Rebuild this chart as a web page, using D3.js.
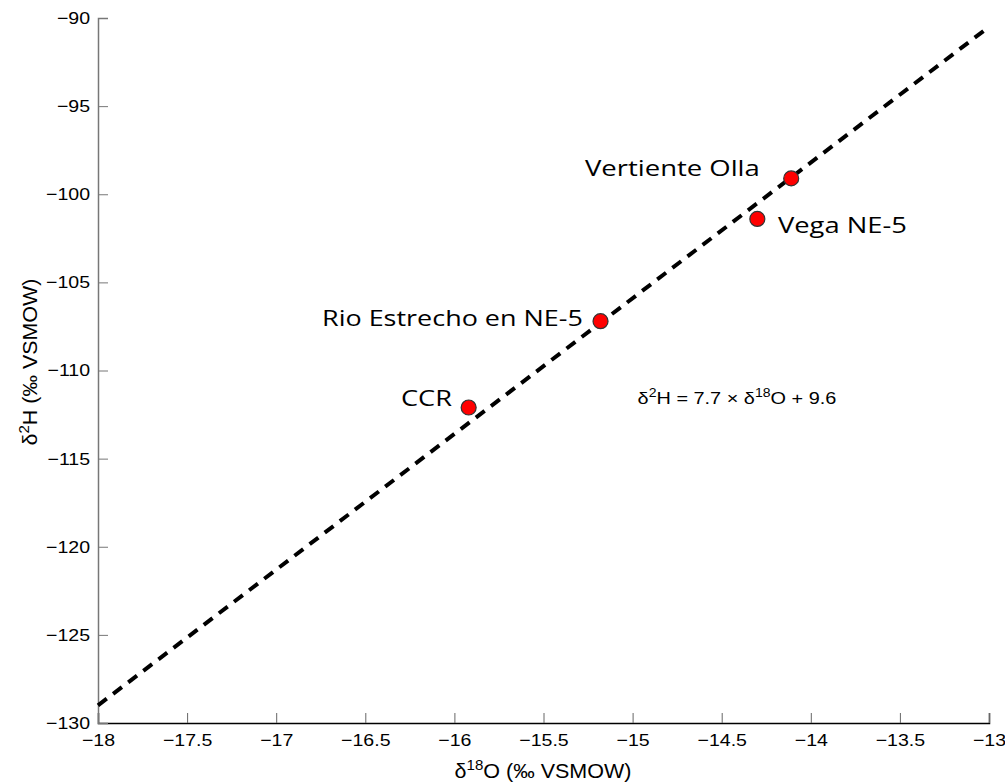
<!DOCTYPE html>
<html>
<head>
<meta charset="utf-8">
<script src="https://cdn.jsdelivr.net/npm/d3@7"></script>
<style>
  body { margin: 0; background: #fff; }
  svg { display: block; }
  .tick text { font-family: "Liberation Sans", Arial, sans-serif; font-size: 17px; fill: #000; }
</style>
</head>
<body>
<svg width="1005" height="783"></svg>
<script>
var svg = d3.select("svg"),
    margin = {left: 98, right: 16, top: 18, bottom: 60},
    width = 1005 - margin.left - margin.right,
    height = 783 - margin.top - margin.bottom;

// sample sites
var sites = ["Vertiente Olla", "Vega NE-5", "Rio Estrecho en NE-5", "CCR"];
var d18O = [-14.11, -14.30, -15.18, -15.92];
var d2H = [-99.1, -101.4, -107.2, -112.1];

// fitted line d2H = 7.7 * d18O + 9.6
var slope = 7.7, intercept = 9.6;
var xTicks = d3.range(-18, -12.99, 0.5);
var yTicks = d3.range(-130, -89.99, 5);

var x = d3.scaleLinear().domain([-18, -13]).range([0, width]);
var y = d3.scaleLinear().domain([-130, -90]).range([height, 0]);

var g = svg.append("g").attr("transform", "translate(" + margin.left + "," + margin.top + ")");

var fmt = function(d) { return d3.format("")(+d.toFixed(1)).replace("-", "\u2212"); };

// the source picture is stretched sideways a bit, so squeeze/stretch text to width
function fitWidth(sel, target) {
  var node = sel.node(), b = node.getBBox();
  var s = target / b.width, cx = b.x + b.width / 2, cy = b.y + b.height / 2;
  var t = sel.attr("transform") || "";
  sel.attr("transform", t + " translate(" + cx + "," + cy + ") scale(" + s + ",1) translate(" + (-cx) + "," + (-cy) + ")");
}

// axes, ticks pointing inward
var xAxis = g.append("g")
    .attr("transform", "translate(0," + height + ")")
    .call(d3.axisBottom(x).tickValues(xTicks).tickSize(-10).tickPadding(11).tickFormat(fmt));
xAxis.select(".domain").attr("stroke", "#000").attr("stroke-width", 1.5);
xAxis.selectAll(".tick line").attr("stroke", "#666");
xAxis.selectAll(".tick text").each(function() { fitWidth(d3.select(this), this.getBBox().width * 1.15); });

var yAxis = g.append("g")
    .call(d3.axisLeft(y).tickValues(yTicks).tickSize(-10).tickPadding(8).tickFormat(fmt));
yAxis.select(".domain").attr("stroke", "#777").attr("stroke-width", 1.5);
yAxis.selectAll(".tick line").attr("stroke", "#777");
yAxis.selectAll(".tick text").each(function() {
  var t = d3.select(this), b = this.getBBox(), s = 1.15, r = b.x + b.width;
  t.attr("transform", "translate(" + r + ",0) scale(" + s + ",1) translate(" + (-r) + ",0)");
});

// regression line
var lineX = x.domain();
g.append("line")
    .attr("x1", x(lineX[0])).attr("y1", y(slope * lineX[0] + intercept))
    .attr("x2", x(lineX[1])).attr("y2", y(slope * lineX[1] + intercept))
    .attr("stroke", "#000")
    .attr("stroke-width", 4)
    .attr("stroke-dasharray", "11,8");

// points
var data = sites.map(function(s, i) { return {name: s, x: d18O[i], y: d2H[i]}; });

g.selectAll(".pt")
    .data(data)
    .enter().append("circle")
    .attr("class", "pt")
    .attr("cx", function(d) { return x(d.x); })
    .attr("cy", function(d) { return y(d.y); })
    .attr("r", 7.5)
    .attr("fill", "#ff0000")
    .attr("stroke", "#333")
    .attr("stroke-width", 1.2);

// site labels: [left edge, centre y, width] in pixels of the picture
var labelBox = {
  "Vertiente Olla": [585, 168, 175],
  "Vega NE-5": [778, 225, 129],
  "Rio Estrecho en NE-5": [322, 318, 261],
  "CCR": [401, 398, 51]
};
g.selectAll(".lbl")
    .data(data)
    .enter().append("text")
    .attr("class", "lbl")
    .attr("x", function(d) { return labelBox[d.name][0] - margin.left; })
    .attr("y", function(d) { return labelBox[d.name][1] - margin.top; })
    .attr("dy", "0.36em")
    .style("font-family", "'Open Sans', Lato, sans-serif")
    .style("font-size", "21px")
    .text(function(d) { return d.name; })
    .each(function(d) {
      var t = d3.select(this), s = labelBox[d.name][2] / this.getComputedTextLength(), l = labelBox[d.name][0] - margin.left;
      t.attr("transform", "translate(" + l + ",0) scale(" + s + ",1) translate(" + (-l) + ",0)");
    });

// equation
var eq = g.append("text")
    .attr("x", 737 - margin.left)
    .attr("y", y(-111.9))
    .attr("text-anchor", "middle")
    .style("font-family", "'Liberation Sans', Arial, sans-serif")
    .style("font-size", "17px");
eq.append("tspan").text("\u03b4");
eq.append("tspan").attr("dy", -7).style("font-size", "12px").text("2");
eq.append("tspan").attr("dy", 7).text("H = 7.7 \u00d7 \u03b4");
eq.append("tspan").attr("dy", -7).style("font-size", "12px").text("18");
eq.append("tspan").attr("dy", 7).text("O + 9.6");
fitWidth(eq, 199);

// axis titles
var xt = svg.append("text")
    .attr("x", 543)
    .attr("y", 778)
    .attr("text-anchor", "middle")
    .style("font-family", "'Liberation Sans', Arial, sans-serif")
    .style("font-size", "20px");
xt.append("tspan").text("\u03b4");
xt.append("tspan").attr("dy", -8).style("font-size", "14px").text("18");
xt.append("tspan").attr("dy", 8).text("O (\u2030 VSMOW)");
fitWidth(xt, 177);

var yt = svg.append("g")
    .attr("transform", "translate(37,362) rotate(-90)")
    .append("text")
    .attr("text-anchor", "middle")
    .style("font-family", "'Liberation Sans', Arial, sans-serif")
    .style("font-size", "20px");
yt.append("tspan").text("\u03b4");
yt.append("tspan").attr("dy", -8).style("font-size", "14px").text("2");
yt.append("tspan").attr("dy", 8).text("H (\u2030 VSMOW)");
fitWidth(yt, 167);
</script>
</body>
</html>
